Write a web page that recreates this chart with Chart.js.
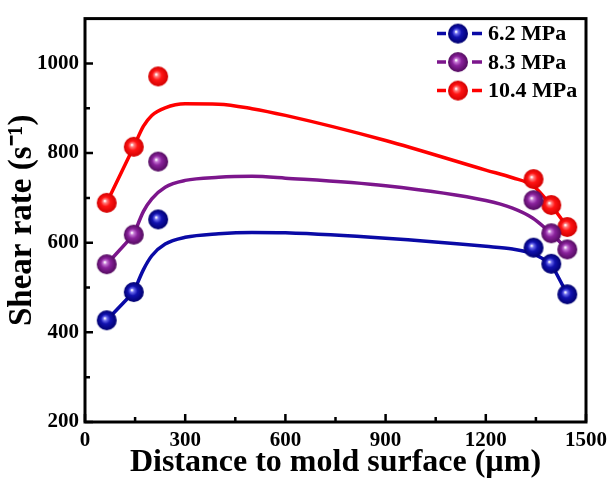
<!DOCTYPE html>
<html>
<head>
<meta charset="utf-8">
<script src="https://cdn.jsdelivr.net/npm/chart.js@4.4.1/dist/chart.umd.min.js"></script>
<style>
  html, body { margin: 0; padding: 0; background: #fff; }
  #wrap { width: 613px; height: 483px; }
</style>
</head>
<body>
<div id="wrap"><canvas id="shearChart" width="613" height="483"></canvas></div>
<script>
// measured points (distance in um, shear rate in 1/s)
const distances = [65, 146, 219, 1343, 1396, 1444];
const seriesNames = ['6.2 MPa', '8.3 MPa', '10.4 MPa'];
const rate62 = [427, 490, 652, 589, 553, 485];
const rate83 = [552, 618, 781, 695, 621, 585];
const rate104 = [689, 814, 971, 742, 684, 635];

// fitted curves
const fitX = [146, 175, 200, 240, 300, 400, 500, 600, 900, 1200, 1280, 1340, 1396];
const fit62 = [490, 540, 571, 597, 612, 620, 623, 622, 610, 592, 586, 576, 553];
const fit83 = [618, 670, 698, 724, 739, 746, 748, 744, 727, 694, 677, 655, 621];
const fit104 = [814, 860, 884, 901, 910, 909, 899, 884, 828, 762, 745, 728, 684];

const xTicks = [0, 300, 600, 900, 1200, 1500];
const xMinor = [150, 450, 750, 1050, 1350];
const yTicks = [200, 400, 600, 800, 1000];
const yMinor = [300, 500, 700, 900];

const lineColors = ['#0a0aa6', '#7c168c', '#ff0000'];
const ballColors = [
  ['#6f6ff0', '#1212b0', '#00006e'],
  ['#c77ad6', '#8a229c', '#520a5e'],
  ['#ff8080', '#ff1414', '#d20000']
];

function makeBall(r, light, main, dark) {
  const c = document.createElement('canvas');
  const size = r * 2 + 2;
  c.width = size; c.height = size;
  const g = c.getContext('2d');
  const cx = size / 2, cy = size / 2;
  const grad = g.createRadialGradient(cx - 2, cy - 2, 0.5, cx, cy, r);
  grad.addColorStop(0, '#ffffff');
  grad.addColorStop(0.15, light);
  grad.addColorStop(0.45, main);
  grad.addColorStop(1, dark);
  g.fillStyle = grad;
  g.beginPath();
  g.arc(cx, cy, r, 0, Math.PI * 2);
  g.fill();
  return c;
}

const balls = ballColors.map(c => makeBall(10, c[0], c[1], c[2]));

const rates = [rate62, rate83, rate104];
const fits = [fit62, fit83, fit104];

const datasets = [];
rates.forEach((vals, i) => {
  datasets.push({
    label: seriesNames[i],
    data: vals.map((v, k) => ({ x: distances[k], y: v })),
    showLine: false,
    pointStyle: balls[i],
    order: 0
  });
  datasets.push({
    label: seriesNames[i] + ' fit',
    data: fitX.map((x, k) => ({ x: x, y: fits[i][k] })),
    showLine: true,
    borderColor: lineColors[i],
    borderWidth: 3.5,
    pointRadius: 0,
    cubicInterpolationMode: 'monotone',
    order: 1
  });
  datasets.push({
    label: seriesNames[i] + ' ends',
    data: [
      { x: distances[0], y: vals[0] },
      { x: distances[1], y: vals[1] },
      { x: 800, y: null },
      { x: distances[4], y: vals[4] },
      { x: distances[5], y: vals[5] }
    ],
    showLine: true,
    spanGaps: false,
    borderColor: lineColors[i],
    borderWidth: 3.5,
    pointRadius: 0,
    tension: 0,
    order: 1
  });
});

const serif = "'Liberation Serif', 'Times New Roman', serif";

const framePlugin = {
  id: 'frame',
  afterDraw(chart) {
    const ctx = chart.ctx;
    const a = chart.chartArea;
    const xs = chart.scales.x, ys = chart.scales.y;
    ctx.save();
    ctx.strokeStyle = '#000';
    ctx.lineWidth = 3;
    ctx.strokeRect(a.left, a.top, a.right - a.left, a.bottom - a.top);
    ctx.lineWidth = 2.5;
    ctx.beginPath();
    xTicks.forEach(v => { const p = xs.getPixelForValue(v); ctx.moveTo(p, a.bottom); ctx.lineTo(p, a.bottom - 8); });
    xMinor.forEach(v => { const p = xs.getPixelForValue(v); ctx.moveTo(p, a.bottom); ctx.lineTo(p, a.bottom - 5); });
    yTicks.forEach(v => { const p = ys.getPixelForValue(v); ctx.moveTo(a.left, p); ctx.lineTo(a.left + 8, p); });
    yMinor.forEach(v => { const p = ys.getPixelForValue(v); ctx.moveTo(a.left, p); ctx.lineTo(a.left + 5, p); });
    ctx.stroke();

    // legend, top right
    const lx = a.right - 149;
    ctx.font = 'bold 22px ' + serif;
    ctx.textBaseline = 'middle';
    ctx.fillStyle = '#000';
    seriesNames.forEach((name, i) => {
      const y = a.top + 15 + i * 28.5;
      ctx.strokeStyle = lineColors[i];
      ctx.lineWidth = 3.5;
      ctx.beginPath();
      ctx.moveTo(lx, y); ctx.lineTo(lx + 9, y);
      ctx.moveTo(lx + 35, y); ctx.lineTo(lx + 45, y);
      ctx.stroke();
      ctx.drawImage(balls[i], lx + 21 - balls[i].width / 2, y - balls[i].height / 2);
      ctx.fillText(name, lx + 51, y + 1);
    });
    ctx.restore();
  }
};

new Chart(document.getElementById('shearChart'), {
  type: 'scatter',
  data: { datasets: datasets },
  options: {
    responsive: false,
    animation: false,
    layout: { padding: { left: 6, right: 23, top: 13, bottom: 4 } },
    plugins: { legend: { display: false }, tooltip: { enabled: false } },
    scales: {
      x: {
        type: 'linear',
        min: 0,
        max: 1500,
        afterBuildTicks: s => { s.ticks = xTicks.map(v => ({ value: v })); },
        afterFit: s => { s.height = 57; },
        grid: { display: false, drawTicks: false },
        border: { display: false },
        ticks: { color: '#000', padding: 6, maxRotation: 0, callback: v => String(v), font: { family: serif, size: 21, weight: 'bold' } },
        title: { display: true, text: 'Distance to mold surface (µm)', color: '#000', padding: 0, font: { family: serif, size: 32, weight: 'bold', lineHeight: 1 } }
      },
      y: {
        type: 'linear',
        min: 200,
        max: 1100,
        afterBuildTicks: s => { s.ticks = yTicks.map(v => ({ value: v })); },
        afterFit: s => { s.width = 79; },
        grid: { display: false, drawTicks: false },
        border: { display: false },
        ticks: { color: '#000', padding: 6, callback: v => String(v), font: { family: serif, size: 21, weight: 'bold' } },
        title: { display: true, text: 'Shear rate (s⁻¹)', color: '#000', padding: 0, font: { family: serif, size: 33, weight: 'bold', lineHeight: 1 } }
      }
    }
  },
  plugins: [framePlugin]
});
</script>
</body>
</html>
